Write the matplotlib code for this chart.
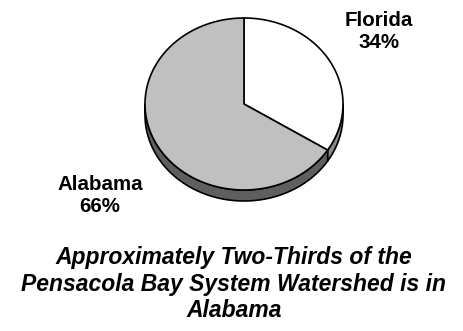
import numpy as np
import matplotlib.pyplot as plt
from matplotlib.patches import Polygon

# data
states = ['Florida', 'Alabama']
shares = [34, 66]
top_colors = ['#ffffff', '#c0c0c0']
side_colors = ['#8a8a8a', '#5f5f5f']
title = 'Approximately Two-Thirds of the\nPensacola Bay System Watershed is in\nAlabama'

plt.rcParams['font.family'] = ['Liberation Sans', 'DejaVu Sans']

fig = plt.figure(figsize=(4.64, 3.31), dpi=100)
ax = fig.add_axes([0, 0, 1, 1])
ax.set_xlim(0, 464)
ax.set_ylim(331, 0)
ax.axis('off')

# pie geometry (pixel space)
cx, cy = 244, 104
rx, ry = 99, 86
depth = 11


def pt(theta, dz=0):
    t = np.radians(theta)
    return np.column_stack([cx + rx * np.cos(t), cy - ry * np.sin(t) + dz])


# slices go clockwise from 12 o'clock
total = sum(shares)
starts = []
a = 90.0
for s in shares:
    end = a - 360.0 * s / total
    starts.append((a, end))
    a = end

# sides (only the front half, theta in [-180, 0])
for (a0, a1), col in zip(starts, side_colors):
    lo, hi = max(a1, -180), min(a0, 0)
    if lo >= hi:
        continue
    th = np.linspace(hi, lo, 80)
    pts = np.vstack([pt(th), pt(th[::-1], depth)])
    ax.add_patch(Polygon(pts, closed=True, fc=col, ec='black', lw=1.2, joinstyle='round'))

# top faces
for (a0, a1), col in zip(starts, top_colors):
    th = np.linspace(a0, a1, 150)
    pts = np.vstack([[cx, cy], pt(th)])
    ax.add_patch(Polygon(pts, closed=True, fc=col, ec='black', lw=1.2, joinstyle='round'))

# labels
label_pos = [(379, 31), (100, 195)]
for name, s, (lx, ly) in zip(states, shares, label_pos):
    ax.text(lx, ly, f'{name}\n{s}%', ha='center', va='center', fontsize=14.8,
            fontweight='bold', linespacing=1.2)

ax.text(234, 284, title, ha='center', va='center', fontsize=16.5,
        fontweight='bold', style='italic', linespacing=1.22)

fig.savefig('out.png', dpi=100)
